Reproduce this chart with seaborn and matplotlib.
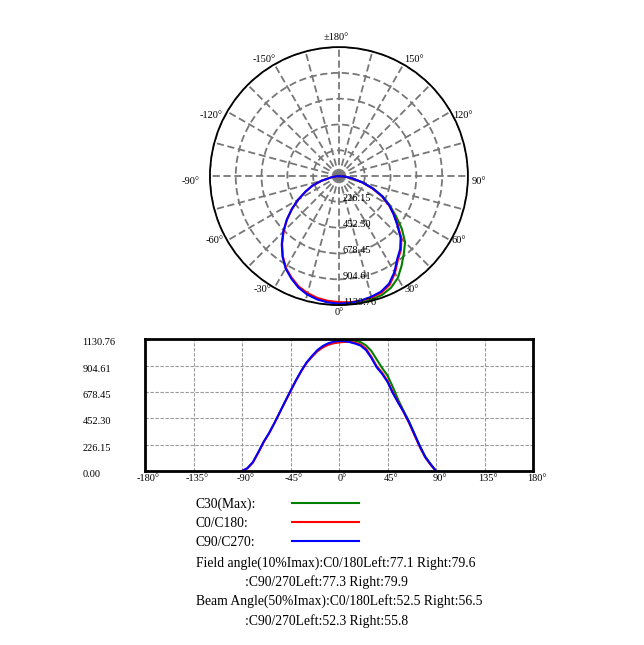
import numpy as np
import pandas as pd
import matplotlib.pyplot as plt
import seaborn as sns
from matplotlib.lines import Line2D
import matplotlib.transforms as mtransforms

plt.rcParams['font.family'] = ['Liberation Serif', 'DejaVu Serif']

# intensity (cd)
angles = list(range(-90, 95, 5))
c0_c180 = [0, 22, 72, 155, 246, 322, 410, 502, 595, 686, 775, 858, 930, 982, 1030, 1062, 1085, 1098,
           1105, 1110, 1110, 1102, 1088, 1052, 982, 900, 845, 775, 675, 590, 505, 412, 308, 205, 118, 52, 0]
c90_c270 = [0, 25, 75, 160, 250, 325, 412, 505, 598, 690, 780, 862, 935, 990, 1040, 1075, 1098, 1112,
            1118, 1116, 1108, 1095, 1078, 1040, 972, 890, 835, 765, 668, 585, 508, 418, 315, 212, 118, 58, 0]
angles_c30 = list(range(0, 95, 5))
c30_max = [1130, 1130, 1126, 1118, 1108, 1080, 1032, 958, 885, 820, 720, 610, 515, 425, 320, 215, 125, 58, 0]

rings = [226.15, 452.30, 678.45, 904.61, 1130.76]
imax = 1130.76

curve_names = ['C30(Max)', 'C0/C180', 'C90/C270']
colors = {'C30(Max)': '#008000', 'C0/C180': '#ff0000', 'C90/C270': '#0000ff'}

field_c0 = (77.1, 79.6)
field_c90 = (77.3, 79.9)
beam_c0 = (52.5, 56.5)
beam_c90 = (52.3, 55.8)

df = pd.concat([
    pd.DataFrame({'angle': angles_c30, 'cd': c30_max, 'curve': 'C30(Max)'}),
    pd.DataFrame({'angle': angles, 'cd': c0_c180, 'curve': 'C0/C180'}),
    pd.DataFrame({'angle': angles, 'cd': c90_c270, 'curve': 'C90/C270'}),
], ignore_index=True)
df['theta'] = np.deg2rad(df['angle'])

fig = plt.figure(figsize=(6.44, 6.45), dpi=100)


def px(dx, dy):
    # pixel offset (y down) as a transform
    return mtransforms.ScaledTranslation(dx / 100, -dy / 100, fig.dpi_scale_trans)


# ---- polar plot ----
ax = fig.add_axes([0.326, 0.527, 0.4006, 0.400], projection='polar')
ax.set_theta_zero_location('S')
ax.set_theta_direction(1)
sns.lineplot(data=df, x='theta', y='cd', hue='curve', hue_order=curve_names, palette=colors,
             linewidth=1.5, legend=False, ax=ax, sort=False)
ax.set_xlabel('')
ax.set_ylabel('')
ax.set_ylim(0, imax)

ax.set_xticks(np.deg2rad(np.arange(0, 360, 15)))
ax.set_xticklabels([])
ax.set_yticks(rings)
ax.set_yticklabels([])
ax.grid(True, color='#777777', linestyle=(0, (4, 2)), linewidth=1.3)
ax.spines['polar'].set_linewidth(1.3)
ax.spines['polar'].set_color('black')

# angle labels: (text, pixel offset from the rim)
angle_labels = {0: ('0°', 0, 7), 30: ('30°', 8.5, 1.3), 60: ('60°', 8.5, -0.5), 90: ('90°', 11, 5),
                120: ('120°', 11.8, 3.5), 150: ('150°', 10.5, -5), 180: ('±180°', -3, -9.7),
                210: ('-150°', -9.8, -5), 240: ('-120°', -16, 3.5), 270: ('-90°', -19.2, 5),
                300: ('-60°', -13.1, 0.2), 330: ('-30°', -12, 1.3)}
for deg, (txt, dx, dy) in angle_labels.items():
    ax.text(np.deg2rad(deg), imax, txt, transform=ax.transData + px(dx, dy), fontsize=7.5,
            ha='center', va='center', clip_on=False)

for r in rings:
    ax.text(0, r, f'{r:.2f}', transform=ax.transData + px(4, -3), fontsize=7.5,
            ha='left', va='center')

# ---- cartesian plot ----
ax2 = fig.add_axes([0.2252, 0.2698, 0.6025, 0.2039])
sns.lineplot(data=df, x='angle', y='cd', hue='curve', hue_order=curve_names, palette=colors,
             linewidth=1.5, legend=False, ax=ax2)
ax2.set_xlabel('')
ax2.set_ylabel('')
ax2.set_xlim(-180, 180)
ax2.set_ylim(0, imax)
xt = list(range(-180, 181, 45))
ax2.set_xticks(xt)
ax2.set_xticklabels([f'{v}°' for v in xt], fontsize=7.5)
ax2.set_yticks([0] + rings)
ax2.set_yticklabels(['0.00'] + [f'{r:.2f}' for r in rings], fontsize=7.5, ha='left')
ax2.tick_params(axis='y', length=0, pad=45)
ax2.tick_params(axis='x', length=0, pad=2.5)
for lab in ax2.get_xticklabels():
    lab.set_transform(lab.get_transform() + px(3.5, 0))
for lab in ax2.get_yticklabels():
    lab.set_transform(lab.get_transform() + px(0, 2.5))
ax2.grid(True, color='#999999', linestyle=(0, (3, 1.5)), linewidth=0.8)
for s in ax2.spines.values():
    s.set_linewidth(2)
    s.set_color('black')

# ---- legend and angle text ----
W, H = 644, 645
fs = 9.85
rows = [(508, 'C30(Max):'), (527, 'C0/C180:'), (546.5, 'C90/C270:')]
for (y, label), name in zip(rows, curve_names):
    fig.text(196 / W, 1 - y / H, label, fontsize=fs, va='baseline')
    ly = 1 - (y - 5.5) / H
    fig.add_artist(Line2D([292 / W, 359 / W], [ly, ly], color=colors[name], linewidth=1.5))

fig.text(196 / W, 1 - 567 / H, f'Field angle(10%Imax):C0/180Left:{field_c0[0]} Right:{field_c0[1]}',
         fontsize=fs, va='baseline')
fig.text(245 / W, 1 - 586 / H, f':C90/270Left:{field_c90[0]} Right:{field_c90[1]}',
         fontsize=fs, va='baseline')
fig.text(196 / W, 1 - 605 / H, f'Beam Angle(50%Imax):C0/180Left:{beam_c0[0]} Right:{beam_c0[1]}',
         fontsize=fs, va='baseline')
fig.text(245 / W, 1 - 624.5 / H, f':C90/270Left:{beam_c90[0]} Right:{beam_c90[1]}',
         fontsize=fs, va='baseline')

fig.savefig('out.png', dpi=100)
